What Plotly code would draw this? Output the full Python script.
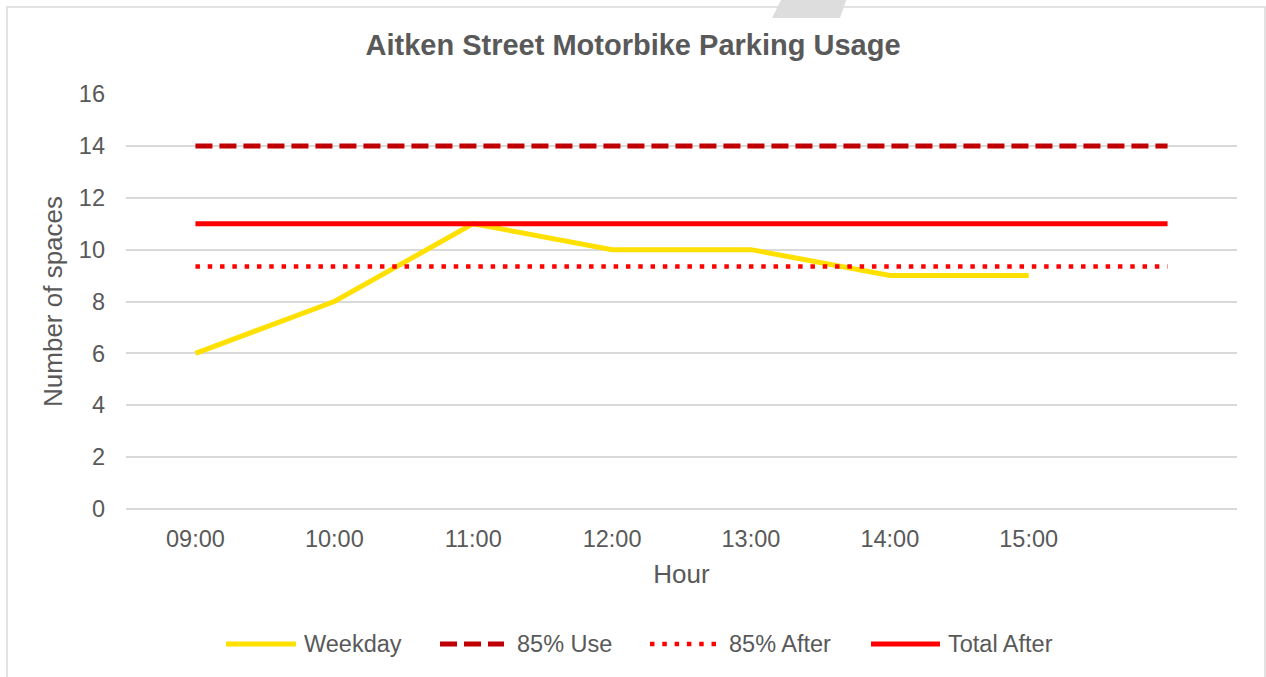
import plotly.graph_objects as go

hours = ["09:00", "10:00", "11:00", "12:00", "13:00", "14:00", "15:00", ""]
weekday = [6, 8, 11, 10, 10, 9, 9]
use85 = [14] * 8
after85 = [9.35] * 8
total_after = [11] * 8

series_names = ["Weekday", "85% Use", "85% After", "Total After"]
series_colors = ["#FFE000", "#C00000", "#FF0000", "#FF0000"]
series_dash = ["solid", "17px,7px", "4.5px,7.8px", "solid"]
series_width = [5, 5, 4.5, 5]

x_all = list(range(len(hours)))
series_x = [x_all[:len(weekday)], x_all, x_all, x_all]
series_y = [weekday, use85, after85, total_after]

fig = go.Figure()
for name, xs, ys, c, d, w in zip(series_names, series_x, series_y, series_colors, series_dash, series_width):
    fig.add_trace(go.Scatter(x=xs, y=ys, mode="lines", name=name, showlegend=False,
                             line=dict(color=c, width=w, dash=d)))

L, R, T, B = 126, 29, 94, 168
W, H = 1266, 677
pw, ph = W - L - R, H - T - B

def px(x):
    return (x - L) / pw

def py(y):
    return (H - B - y) / ph

shapes = [
    dict(type="rect", xref="paper", yref="paper", x0=px(7), x1=px(1265), y0=py(7), y1=py(700),
         line=dict(color="#D9D9D9", width=1.5), layer="below"),
    dict(type="path", xref="paper", yref="paper",
         path=f"M {px(782)} {py(-2)} L {px(847)} {py(-2)} L {px(840)} {py(18)} L {px(772)} {py(18)} Z",
         fillcolor="#DDDDDD", line=dict(width=0), layer="below"),
]
annotations = []

# manual legend (symbol start, symbol end, text start) in pixels
leg_sym = [(226, 296), (440, 504), (650, 717), (871, 940)]
leg_text_x = [302, 515, 727, 946]
leg_y = 644
for name, c, d, w, (s0, s1), tx in zip(series_names, series_colors, series_dash, series_width, leg_sym, leg_text_x):
    shapes.append(dict(type="line", xref="paper", yref="paper", x0=px(s0), x1=px(s1),
                       y0=py(leg_y), y1=py(leg_y), line=dict(color=c, width=w, dash=d)))
    annotations.append(dict(text=name, xref="paper", yref="paper", x=px(tx), y=py(leg_y),
                            xanchor="left", yanchor="middle", showarrow=False,
                            font=dict(size=23.5, color="#595959")))

fig.update_layout(
    width=W, height=H,
    margin=dict(l=L, r=R, t=T, b=B),
    paper_bgcolor="white", plot_bgcolor="white",
    font=dict(family="Liberation Sans, Arial, sans-serif", color="#595959", size=23.5),
    title=dict(text="<b>Aitken Street Motorbike Parking Usage</b>", x=0.5, xanchor="center",
               y=1 - 45 / H, yanchor="middle", font=dict(size=29, color="#595959")),
    xaxis=dict(range=[-0.5, 7.5], tickvals=x_all, ticktext=hours, showgrid=False,
               zeroline=False, showline=False, ticks="", tickfont=dict(size=23.5),
               ticklabelstandoff=13,
               title=dict(text="Hour", font=dict(size=26), standoff=14)),
    yaxis=dict(range=[0, 16], dtick=2, showgrid=True, gridcolor="#D9D9D9", gridwidth=1.5,
               zeroline=True, zerolinecolor="#D9D9D9", zerolinewidth=1.5, ticks="",
               tickfont=dict(size=23.5), showline=False, ticklabelstandoff=20,
               title=dict(text="Number of spaces", font=dict(size=26), standoff=8)),
    showlegend=False,
    shapes=shapes,
    annotations=annotations,
)

fig.write_html("out.html", config={"displayModeBar": False},
               post_script="document.body.style.margin='0';document.body.style.overflow='hidden';")
